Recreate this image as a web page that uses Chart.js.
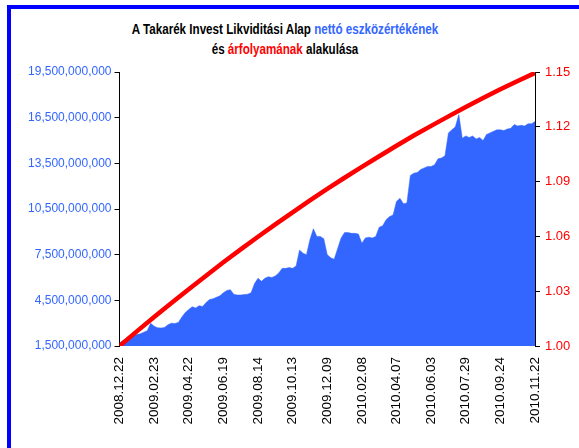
<!DOCTYPE html>
<html>
<head>
<meta charset="utf-8">
<script src="https://cdn.jsdelivr.net/npm/chart.js@4/dist/chart.umd.min.js"></script>
<style>
    html, body { margin: 0; padding: 0; background: #fff; overflow: hidden; }
    body { width: 579px; height: 448px; position: relative; font-family: 'Liberation Sans', Arial, sans-serif; }
    #frame {
        position: absolute; left: 7px; top: 5px; width: 700px; height: 600px;
        border: 4px solid #0000ff; background: #fff;
    }
    #title {
        position: absolute; left: 0; top: 19px; width: 570px;
        text-align: center; font-weight: bold; font-size: 14px; line-height: 20px;
        color: #000; transform: scaleX(0.83); transform-origin: 285px 0;
    }
    #title .blue { color: #3366ff; }
    #title .red { color: #ff0000; }
    #wrap { position: absolute; left: 0; top: 0; width: 579px; height: 448px; }
</style>
</head>
<body>
<div id="frame"></div>
<div id="title">A Takarék Invest Likviditási Alap <span class="blue">nettó eszközértékének</span><br>és <span class="red">árfolyamának</span> alakulása</div>
<div id="wrap"><canvas id="chart_0" width="579" height="448"></canvas></div>
<script>
// Tick labels on the date axis (every 10th trading point)
const xLabels = ['2008.12.22', '2009.02.23', '2009.04.22', '2009.06.19', '2009.08.14', '2009.10.13',
    '2009.12.09', '2010.02.08', '2010.04.07', '2010.06.03', '2010.07.29', '2010.09.24', '2010.11.22'];

// Net asset value, billion HUF (one value per point, 121 points)
const netAssets = [
    1.7, 1.85, 2.0, 2.05, 2.15, 2.25, 2.3, 2.4, 2.5, 3.0,
    2.8, 2.7, 2.68, 2.72, 2.9, 3.0, 2.98, 3.05, 3.4, 3.7,
    3.9, 4.08, 4.0, 4.15, 4.1, 4.35, 4.55, 4.6, 4.7, 4.8,
    5.0, 5.15, 5.2, 4.9, 4.85, 4.85, 4.88, 4.9, 5.0, 5.6,
    5.95, 5.75, 5.95, 6.05, 6.0, 6.1, 6.3, 6.6, 6.6, 6.65,
    6.6, 6.75, 7.8, 7.6, 7.5, 8.5, 9.2, 8.7, 8.7, 8.55,
    7.5, 7.3, 7.2, 7.9, 8.6, 8.95, 8.95, 8.9, 8.9, 8.85,
    8.25, 8.6, 8.65, 8.6, 8.7, 9.3, 9.4, 9.8, 10.0, 10.1,
    11.0, 11.2, 10.85, 10.9, 12.7, 12.85, 12.9, 13.1, 13.2, 13.3,
    13.3, 13.4, 13.8, 13.85, 14.0, 15.5, 15.7, 15.9, 16.7, 15.15,
    15.3, 15.2, 15.3, 15.1, 15.2, 15.0, 15.4, 15.5, 15.6, 15.7,
    15.7, 15.65, 15.75, 15.8, 16.05, 15.95, 16.0, 15.95, 16.1, 16.1,
    16.25
];

// Unit price, read every 5th point
const priceStep = 5;
const unitPrice = [
    1.0000, 1.0080, 1.0159, 1.0236, 1.0311, 1.0385, 1.0458, 1.0529, 1.0598,
    1.0666, 1.0732, 1.0797, 1.0860, 1.0921, 1.0981, 1.1039, 1.1096, 1.1152,
    1.1205, 1.1257, 1.1308, 1.1357, 1.1405, 1.1451, 1.1495
];

const FONT = "'Liberation Sans', Arial, sans-serif";

function createChart0() {
    const ctx = document.getElementById('chart_0');
    if (!ctx) {
        console.error('Canvas element with id "chart_0" not found');
        return;
    }

    const navData = netAssets.map((v, i) => ({ x: i, y: v }));
    const priceData = unitPrice.map((v, i) => ({ x: i * priceStep, y: v }));

    new Chart(ctx.getContext('2d'), {
        type: 'line',
        data: {
            datasets: [
                {
                    label: 'árfolyam',
                    data: priceData,
                    yAxisID: 'y1',
                    borderColor: '#ff0000',
                    borderWidth: 4.5,
                    pointRadius: 0,
                    fill: false,
                    tension: 0
                },
                {
                    label: 'nettó eszközérték',
                    data: navData,
                    yAxisID: 'y',
                    borderColor: '#3366ff',
                    backgroundColor: '#3366ff',
                    borderWidth: 0.5,
                    pointRadius: 0,
                    fill: 'start',
                    tension: 0
                }
            ]
        },
        options: {
            responsive: false,
            animation: false,
            layout: { padding: { top: 72, left: 0, right: 0, bottom: 0 } },
            plugins: {
                legend: { display: false },
                tooltip: { enabled: false }
            },
            scales: {
                x: {
                    type: 'linear',
                    min: 0,
                    max: 120,
                    grid: { display: false, drawTicks: false },
                    border: { display: false },
                    ticks: {
                        stepSize: 10,
                        autoSkip: false,
                        minRotation: 90,
                        maxRotation: 90,
                        padding: 11,
                        color: '#000',
                        font: { family: FONT, size: 13.5 },
                        callback: v => xLabels[Math.round(v / 10)]
                    },
                    afterFit: s => { s.height = 102; }
                },
                y: {
                    position: 'left',
                    min: 1.5,
                    max: 19.5,
                    grid: { drawOnChartArea: false, color: '#000', tickLength: 5 },
                    border: { display: true, color: '#000', width: 1 },
                    ticks: {
                        stepSize: 3,
                        padding: 3,
                        color: '#3366ff',
                        font: { family: FONT, size: 12 },
                        callback: v => (Math.round(v * 1e9)).toLocaleString('en-US')
                    },
                    afterFit: s => { s.width = 119.5; }
                },
                y1: {
                    position: 'right',
                    min: 1.0,
                    max: 1.15,
                    grid: { drawOnChartArea: false, color: '#000', tickLength: 5 },
                    border: { display: true, color: '#000', width: 1 },
                    ticks: {
                        stepSize: 0.03,
                        padding: 5,
                        color: '#ff0000',
                        font: { family: FONT, size: 13 },
                        callback: v => v.toFixed(2)
                    },
                    afterFit: s => { s.width = 44; }
                }
            }
        }
    });
}

document.addEventListener('DOMContentLoaded', function() {
    createChart0();
});
</script>
</body>
</html>
